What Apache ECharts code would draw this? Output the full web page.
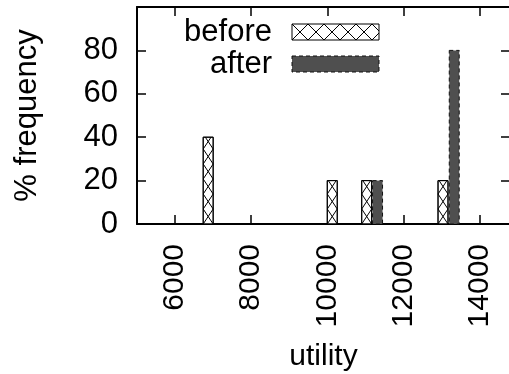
<!DOCTYPE html>
<html>
<head>
<meta charset="utf-8">
<script src="https://cdn.jsdelivr.net/npm/echarts@6/dist/echarts.min.js"></script>
<style>
  html, body { margin: 0; padding: 0; background: #fff; }
  #main { width: 509px; height: 374px; }
</style>
</head>
<body>
<div id="main"></div>
<script>
// data: [utility, % frequency]
var beforeData = [[6870, 40], [10130, 20], [11035, 20], [13040, 20]];
var afterData = [[11320, 20], [13335, 80]];
var xTicks = [6000, 8000, 10000, 12000, 14000];
var yTicks = [0, 20, 40, 60, 80, 100];
var yLabels = [0, 20, 40, 60, 80];

var FONT = 'Liberation Sans';
var BOX = 262;           // box width in utility units
var HATCH = 15;          // vertical step of the crosshatch, px
var DARK = '#4f4f4f';

// zigzag hatch inside a vertical box
function zigzag(xl, xr, yb, yt, startLeft) {
  var h = HATCH, pts = [], left = startLeft, y = yb;
  pts.push([left ? xl : xr, y]);
  while (y - h > yt) {
    y -= h; left = !left;
    pts.push([left ? xl : xr, y]);
  }
  var f = (y - yt) / h;
  var xa = left ? xl : xr, xb = left ? xr : xl;
  pts.push([xa + (xb - xa) * f, yt]);
  return pts;
}

function renderBefore(params, api) {
  var x = api.value(0), y = api.value(1);
  var p0 = api.coord([x - BOX / 2, 0]);
  var p1 = api.coord([x + BOX / 2, y]);
  var xl = p0[0], xr = p1[0], yb = p0[1], yt = p1[1];
  return {
    type: 'group',
    children: [
      { type: 'rect', shape: { x: xl, y: yt, width: xr - xl, height: yb - yt },
        style: { fill: '#fff', stroke: '#000', lineWidth: 1 } },
      { type: 'polyline', shape: { points: zigzag(xl, xr, yb, yt, true) },
        style: { fill: null, stroke: '#000', lineWidth: 1 } },
      { type: 'polyline', shape: { points: zigzag(xl, xr, yb, yt, false) },
        style: { fill: null, stroke: '#000', lineWidth: 1 } },
      { type: 'rect', shape: { x: xl, y: yt, width: xr - xl, height: yb - yt },
        style: { fill: null, stroke: '#000', lineWidth: 1 } }
    ]
  };
}

function renderAfter(params, api) {
  var x = api.value(0), y = api.value(1);
  var p0 = api.coord([x - BOX / 2, 0]);
  var p1 = api.coord([x + BOX / 2, y]);
  return {
    type: 'rect',
    shape: { x: p0[0], y: p1[1], width: p1[0] - p0[0], height: p0[1] - p1[1] },
    style: { fill: DARK, stroke: '#111', lineWidth: 1, lineDash: [4, 3] }
  };
}

// legend drawn by hand, like gnuplot's key
function legendGraphics() {
  var gx = 292, gw = 87, gh = 16, rows = [24, 56];
  var els = [];
  els.push({ type: 'text', x: 272, y: rows[0] + gh / 2,
    style: { text: 'before', font: '31px ' + FONT, fill: '#000', textAlign: 'right', textVerticalAlign: 'middle' } });
  els.push({ type: 'text', x: 272, y: rows[1] + gh / 2,
    style: { text: 'after', font: '31px ' + FONT, fill: '#000', textAlign: 'right', textVerticalAlign: 'middle' } });
  els.push({ type: 'rect', shape: { x: gx, y: rows[0], width: gw, height: gh },
    style: { fill: '#fff', stroke: '#000', lineWidth: 1 } });
  // crosshatch across the key box
  var y0 = rows[0], y1 = rows[0] + gh;
  var a = [], b = [], up = true, xx = gx;
  while (xx <= gx + gw) {
    a.push([xx, up ? y0 : y1]);
    b.push([xx, up ? y1 : y0]);
    xx += gh; up = !up;
  }
  var last = xx - gh, f = (gx + gw - last) / gh;
  var aFrom = up ? y1 : y0, aTo = up ? y0 : y1;
  a.push([gx + gw, aFrom + (aTo - aFrom) * f]);
  b.push([gx + gw, aTo + (aFrom - aTo) * f]);
  els.push({ type: 'polyline', shape: { points: a }, style: { fill: null, stroke: '#000', lineWidth: 1 } });
  els.push({ type: 'polyline', shape: { points: b }, style: { fill: null, stroke: '#000', lineWidth: 1 } });
  els.push({ type: 'rect', shape: { x: gx, y: rows[1], width: gw, height: gh },
    style: { fill: DARK, stroke: '#111', lineWidth: 1, lineDash: [4, 3] } });
  return els;
}

var chart = echarts.init(document.getElementById('main'), null, { renderer: 'canvas' });

var tickStyle = { show: true, inside: true, length: 9, lineStyle: { color: '#000', width: 1.5 } };
var lineStyle = { show: true, onZero: false, lineStyle: { color: '#000', width: 2 } };

var option = {
  animation: false,
  backgroundColor: '#fff',
  grid: { left: 137, top: 7, right: -1, bottom: 150, containLabel: false, outerBoundsMode: 'none' },
  xAxis: [{
    type: 'value', position: 'bottom', min: 5000, max: 14800,
    axisLine: lineStyle,
    axisTick: Object.assign({ customValues: xTicks }, tickStyle),
    axisLabel: { customValues: xTicks, rotate: 90, margin: 20, fontSize: 30, fontFamily: FONT, color: '#000',
      formatter: function (v) { return String(v); } },
    splitLine: { show: false },
    name: 'utility', nameLocation: 'middle', nameGap: 118,
    nameTextStyle: { fontSize: 30, fontFamily: FONT, color: '#000' }
  }, {
    type: 'value', position: 'top', min: 5000, max: 14800,
    axisLine: lineStyle,
    axisTick: Object.assign({ customValues: xTicks }, tickStyle),
    axisLabel: { show: false },
    splitLine: { show: false }
  }],
  yAxis: [{
    type: 'value', position: 'left', min: 0, max: 100,
    axisLine: lineStyle,
    axisTick: Object.assign({ customValues: yTicks }, tickStyle),
    axisLabel: { customValues: yLabels, margin: 19, fontSize: 31, fontFamily: FONT, color: '#000' },
    splitLine: { show: false },
    name: '% frequency', nameLocation: 'middle', nameGap: 94,
    nameTextStyle: { fontSize: 31, fontFamily: FONT, color: '#000' }
  }, {
    type: 'value', position: 'right', min: 0, max: 100,
    axisLine: lineStyle,
    axisTick: Object.assign({ customValues: yTicks }, tickStyle),
    axisLabel: { show: false },
    splitLine: { show: false }
  }],
  graphic: legendGraphics(),
  series: [{
    name: 'before', type: 'custom', renderItem: renderBefore,
    data: beforeData, encode: { x: 0, y: 1 }, clip: false
  }, {
    name: 'after', type: 'custom', renderItem: renderAfter,
    data: afterData, encode: { x: 0, y: 1 }, clip: false
  }]
};

chart.setOption(option);
</script>
</body>
</html>
